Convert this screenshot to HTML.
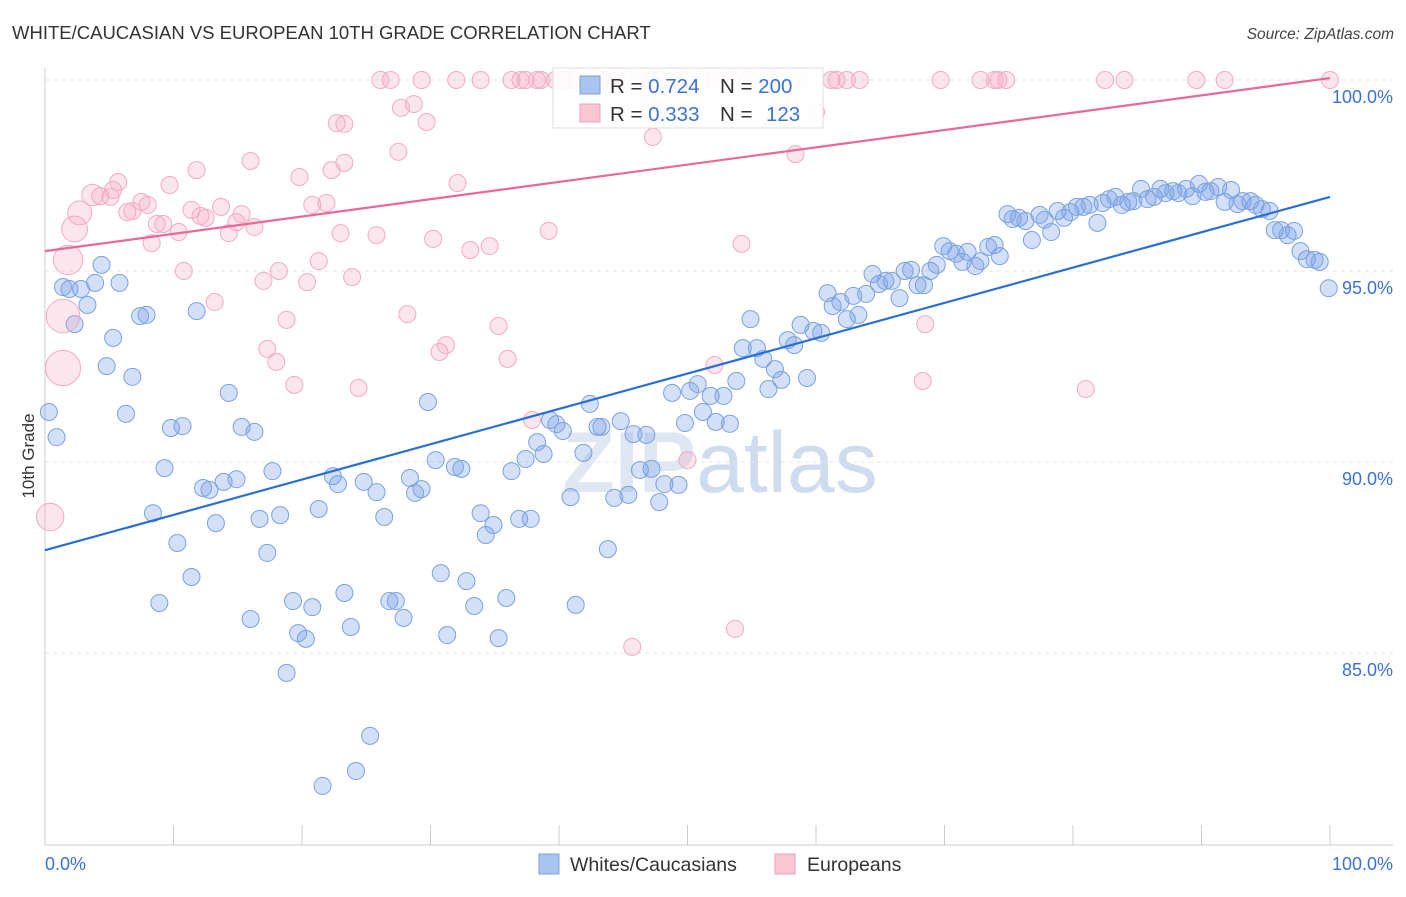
<!DOCTYPE html>
<html><head><meta charset="utf-8"><style>
body{margin:0;background:#fff;font-family:"Liberation Sans",sans-serif}
svg text{font-family:"Liberation Sans",sans-serif}
</style></head><body>
<svg id="chart" width="1406" height="892" xmlns="http://www.w3.org/2000/svg">
<text x="12" y="39" font-size="18.5" fill="#333">WHITE/CAUCASIAN VS EUROPEAN 10TH GRADE CORRELATION CHART</text>
<text x="1394" y="39" font-size="15.5" fill="#444" font-style="italic" text-anchor="end">Source: ZipAtlas.com</text>
<text x="720" y="492" font-size="86" fill="#dfe7f3" text-anchor="middle" font-weight="bold">ZIP<tspan fill="#cfdcf0" font-weight="normal">atlas</tspan></text>
<g id="grid"></g>
<g id="axes"></g>
<g id="pts"></g>
<g id="lines"></g>
<g>
<rect x="553" y="68" width="270" height="60" fill="#fff" fill-opacity="0.9" stroke="#ddd"/>
<rect x="580" y="76" width="20" height="18" fill="#aac4f0" stroke="#7aa0e0"/>
<rect x="580" y="104" width="20" height="18" fill="#f9c6d6" stroke="#f0a0bb"/>
<text x="610" y="93" font-size="20.5" fill="#333">R = <tspan fill="#3a72d6">0.724</tspan><tspan x="720">N = </tspan><tspan fill="#3a72d6">200</tspan></text>
<text x="610" y="121" font-size="20.5" fill="#333">R = <tspan fill="#3a72d6">0.333</tspan><tspan x="720">N = </tspan><tspan fill="#3a72d6" x="766">123</tspan></text>
</g>
<text transform="translate(34,456) rotate(-90)" font-size="17" fill="#333" text-anchor="middle">10th Grade</text>
<text x="45" y="870" font-size="18" fill="#3a72d6">0.0%</text>
<text x="1393" y="870" font-size="18" fill="#3a72d6" text-anchor="end">100.0%</text>
<rect x="539" y="854" width="20" height="20" fill="#aac4f0" stroke="#7aa0e0"/>
<text x="570" y="871" font-size="19.5" fill="#333">Whites/Caucasians</text>
<rect x="775" y="854" width="20" height="20" fill="#f9c6d6" stroke="#f0a0bb"/>
<text x="807" y="871" font-size="19.5" fill="#333">Europeans</text>
</svg>
<script>
const yTicks=[100,95,90,85];
const yTickLabels=["100.0%","95.0%","90.0%","85.0%"];
const xTicks=[0,10,20,30,40,50,60,70,80,90,100];
const blueX=[0.3,0.9,1.4,1.9,2.3,2.8,3.3,3.9,4.4,4.8,5.3,5.8,6.3,6.8,7.4,7.9,8.4,8.9,9.3,9.8,10.3,10.7,11.4,11.8,12.3,12.8,13.3,13.9,14.3,14.9,15.3,16.0,16.3,16.7,17.3,17.7,18.3,18.8,19.3,19.7,20.3,20.8,21.3,21.6,22.4,22.8,23.3,23.8,24.2,24.8,25.3,25.8,26.4,26.8,27.3,27.9,28.4,28.8,29.3,29.8,30.4,30.8,31.3,31.9,32.4,32.8,33.4,33.9,34.3,34.9,35.3,35.9,36.3,36.9,37.4,37.8,38.3,38.8,39.3,39.8,40.3,40.9,41.3,41.9,42.4,43.0,43.3,43.8,44.3,44.8,45.4,45.8,46.3,46.8,47.2,47.8,48.2,48.8,49.3,49.8,50.2,50.8,51.2,51.8,52.2,52.8,53.3,53.8,54.3,54.9,55.4,55.9,56.3,56.8,57.3,57.8,58.3,58.8,59.3,59.8,60.4,60.9,61.3,61.9,62.4,62.9,63.3,63.9,64.4,64.9,65.4,65.9,66.5,66.9,67.4,67.9,68.4,68.9,69.4,69.9,70.4,70.9,71.4,71.8,72.4,72.8,73.4,73.9,74.3,74.9,75.3,75.8,76.3,76.8,77.4,77.8,78.3,78.8,79.3,79.8,80.3,80.8,81.3,81.9,82.3,82.8,83.3,83.8,84.3,84.7,85.3,85.8,86.3,86.8,87.2,87.8,88.2,88.8,89.3,89.8,90.3,90.7,91.3,91.8,92.3,92.8,93.2,93.8,94.2,94.7,95.3,95.7,96.2,96.7,97.2,97.7,98.2,98.8,99.2,99.9];
const blueY=[91.31,90.65,94.58,94.53,93.61,94.53,94.11,94.69,95.16,92.51,93.25,94.69,91.26,92.23,93.82,93.85,88.66,86.31,89.84,90.89,87.88,90.94,86.99,93.95,89.32,89.27,88.40,89.48,91.81,89.55,90.92,85.89,90.79,88.51,87.62,89.76,88.61,84.48,86.36,85.52,85.37,86.20,88.77,81.52,89.63,89.42,86.57,85.68,81.91,89.48,82.83,89.21,88.56,86.36,86.36,85.92,89.58,89.19,89.29,91.57,90.05,87.09,85.47,89.87,89.82,86.88,86.23,88.66,88.09,88.35,85.39,86.44,89.76,88.51,90.08,88.51,90.52,90.21,91.10,90.99,90.81,89.08,86.26,90.24,91.52,90.92,90.92,87.72,89.06,91.07,89.14,90.73,89.79,90.71,89.82,88.95,89.42,91.81,89.40,91.02,91.86,92.04,91.31,91.73,91.05,91.73,91.00,92.12,92.98,93.74,92.98,92.70,91.91,92.43,92.15,93.19,93.06,93.59,92.20,93.43,93.38,94.42,94.08,94.19,93.74,94.35,93.85,94.40,94.92,94.66,94.74,94.74,94.29,95.00,95.03,94.63,94.63,95.00,95.16,95.65,95.52,95.45,95.24,95.50,95.13,95.26,95.63,95.68,95.39,96.49,96.36,96.39,96.31,95.81,96.47,96.34,96.02,96.57,96.39,96.54,96.68,96.68,96.73,96.26,96.78,96.88,96.94,96.73,96.81,96.83,97.15,96.88,96.94,97.15,97.04,97.09,97.04,97.15,96.96,97.28,97.07,97.09,97.20,96.81,97.12,96.75,96.83,96.83,96.73,96.62,96.57,96.07,96.07,95.94,96.05,95.52,95.31,95.29,95.24,94.55];
const pinkX=[26.1,26.9,29.3,32.0,33.9,36.3,37.0,37.4,38.3,38.6,39.7,40.2,40.6,41.2,43.2,43.7,44.5,45.3,46.8,47.2,47.9,48.9,49.8,51.1,52.0,53.5,54.8,56.3,56.9,58.8,61.2,61.6,62.4,63.4,69.7,72.8,73.9,74.2,74.8,82.5,84.0,89.6,91.8,100,
27.7,28.7,22.7,23.3,29.7,27.5,16.0,11.8,9.7,5.7,5.3,4.3,5.1,7.5,8.0,6.4,6.8,8.7,9.2,10.4,11.4,12.1,12.5,13.7,14.9,15.3,14.3,16.3,19.8,22.3,23.3,32.1,20.8,21.9,23.0,25.8,30.2,33.1,34.6,39.2,8.3,10.8,13.2,17.0,18.2,18.8,20.4,21.3,23.9,17.3,18.0,19.4,24.4,28.2,30.7,31.2,35.3,36.0,47.3,58.4,60.0,54.2,52.1,68.5,68.3,81.0,37.9,50.0,45.7,53.7,
1.4,1.4,1.8,2.3,2.7,3.7,0.4];
const pinkY=[100,100,100,100,100,100,100,100,100,100,100,100,100,100,100,100,100,100,100,100,100,100,100,100,100,100,100,100,100,100,100,100,100,100,100,100,100,100,100,100,100,100,100,100,
99.27,99.37,98.87,98.85,98.90,98.12,97.88,97.64,97.25,97.33,97.12,96.96,96.94,96.81,96.73,96.54,96.57,96.23,96.23,96.02,96.60,96.44,96.39,96.68,96.28,96.49,95.99,96.15,97.46,97.64,97.83,97.30,96.73,96.78,95.99,95.94,95.84,95.55,95.65,96.05,95.73,95.00,94.19,94.74,95.00,93.72,94.71,95.26,94.84,92.96,92.62,92.02,91.94,93.87,92.88,93.06,93.56,92.70,98.51,98.06,99.16,95.71,92.54,93.61,92.12,91.91,91.10,90.05,85.16,85.63,
92.46,93.82,95.29,96.10,96.52,96.99,88.56];
const pinkWeight=[];for(let i=0;i<pinkX.length;i++)pinkWeight.push(1);
pinkWeight.splice(pinkX.length-7,7,4.3,3.9,3.0,2.3,2,1.6,2.6);
const blueTrend=[87.69,96.94];
const pinkTrend=[95.52,100.05];
const NS="http://www.w3.org/2000/svg";
const xS=v=>45+v*12.85;
const yS=v=>80+(100-v)*38.2;
function mk(p,t,a){const e=document.createElementNS(NS,t);for(const k in a)e.setAttribute(k,a[k]);p.appendChild(e);return e;}
const grid=document.getElementById('grid'),axes=document.getElementById('axes'),pts=document.getElementById('pts'),lines=document.getElementById('lines');
yTicks.forEach((t,i)=>{
 const l=mk(grid,'line',{x1:45,x2:1393,y1:yS(t),y2:yS(t),stroke:'#e4e4e4','stroke-dasharray':'4,4'});
 
 
 const tx=mk(axes,'text',{x:1393,y:yS(t)+23,'font-size':18,fill:'#3a72d6','text-anchor':'end'});
 tx.textContent=yTickLabels[i];
 
 
});
const ya=mk(axes,'line',{x1:45,x2:45,y1:68,y2:845,stroke:'#ccc'});


const xa=mk(axes,'line',{x1:45,x2:1393,y1:845,y2:845,stroke:'#ccc'});


xTicks.forEach(t=>{
 const k=mk(axes,'line',{x1:xS(t),x2:xS(t),y1:825,y2:845,stroke:'#ccc'});
 
 
});
blueX.forEach((x,i)=>{
 const c=mk(pts,'circle',{cx:xS(x),cy:yS(blueY[i]),r:8.5,fill:'rgba(120,160,230,0.33)',stroke:'#7aa2e2','stroke-width':1});
 
 
});
pinkX.forEach((x,i)=>{
 const c=mk(pts,'circle',{cx:xS(x),cy:yS(pinkY[i]),r:8.5*Math.sqrt(pinkWeight[i]),fill:'rgba(244,165,195,0.28)',stroke:'#f2aac2','stroke-width':1});
 
 
});
const bl=mk(lines,'line',{x1:xS(0),y1:yS(blueTrend[0]),x2:xS(100),y2:yS(blueTrend[1]),stroke:'#2a6fd6','stroke-width':2.2});


const pl=mk(lines,'line',{x1:xS(0),y1:yS(pinkTrend[0]),x2:xS(100),y2:yS(pinkTrend[1]),stroke:'#e8689a','stroke-width':2.2});


</script>
</body></html>
